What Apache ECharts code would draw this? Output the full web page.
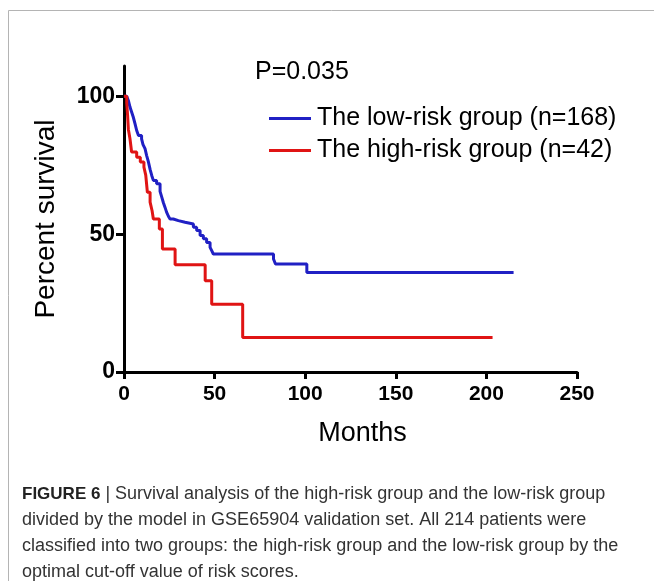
<!DOCTYPE html>
<html>
<head>
<meta charset="utf-8">
<script src="https://cdn.jsdelivr.net/npm/echarts@6/dist/echarts.min.js"></script>
<style>
html,body{margin:0;padding:0;background:#fff;}
#chart{width:654px;height:581px;}
</style>
</head>
<body>
<div id="chart"></div>
<script>
// ---- data ----
const lowMonths   = [0,1.5,2.4,3.3,4.2,5.1,6.1,7,8,9.7,10.5,11.6,12.5,13.4,14.4,15.3,16.2,18,19.9,20.8,21.7,22.6,23.5,24.5,25.4,27.2,30,33.7,38.3,40.1,42,43.8,45.6,47.5,48.4,49.3,82.5,83.6,100.9,215];
const lowSurvival = [100,99.4,98.5,96.1,94.3,92.5,90,87.6,85.8,84.6,82.5,81,78.5,76.4,73.5,71.3,69.5,68.3,65.5,63.5,61.5,59.8,58,56.5,55.5,54.9,54.3,53.7,52.5,51.3,49.5,48.3,47,45.2,44,42.8,41,39.2,36.1,36.1];
const highMonths   = [0,1.5,2,2.4,3.3,4.2,7,9,11,12,12.9,14.4,15.5,16.2,19.5,21.2,28.2,44.8,48.4,65.5,203.4];
const highSurvival = [100,97.6,92.9,88.1,84.6,79.8,77.9,76.2,74.3,71.4,65.2,61.6,58.5,55.5,51.9,44.6,38.9,33.1,24.6,12.5,12.5];
const seriesNames = ['The low-risk group (n=168)', 'The high-risk group (n=42)'];
const xTicks = [0,50,100,150,200,250];
const yTicks = [0,50,100];
const pText = 'P=0.035';
const captionLines = [
  ['FIGURE 6', ' | Survival analysis of the high-risk group and the low-risk group'],
  ['', 'divided by the model in GSE65904 validation set. All 214 patients were'],
  ['', 'classified into two groups: the high-risk group and the low-risk group by the'],
  ['', 'optimal cut-off value of risk scores.']
];

const chart = echarts.init(document.getElementById('chart'), null, {renderer:'canvas'});
const capFont = '"Liberation Sans",Arial,sans-serif';
const captionGraphics = captionLines.map((l, i) => ({
  type: 'text', left: 22, top: 485 + i * 26,
  style: {
    text: (l[0] ? '{b|' + l[0] + '}' : '') + '{n|' + l[1] + '}',
    rich: {
      b: {fontFamily: capFont, fontWeight: 'bold', fontSize: 17, fill: '#222'},
      n: {fontFamily: capFont, fontSize: 18, fill: '#333'}
    }
  }
}));

chart.setOption({
  animation: false,
  backgroundColor: '#fff',
  textStyle: {fontFamily: '"Liberation Sans",Arial,sans-serif'},
  grid: {left: 124, right: 77, top: 66, bottom: 209, containLabel: false},
  title: {
    text: pText, left: 250, top: 55,
    textStyle: {fontSize: 25, fontWeight: 'normal', color: '#000', fontFamily: '"Liberation Sans",Arial,sans-serif'}
  },
  legend: {
    orient: 'vertical', left: 264, top: 101, itemGap: 7,
    itemWidth: 42, itemHeight: 3, icon: 'rect',
    textStyle: {fontSize: 25, lineHeight: 25, color: '#000', padding: [0,0,0,1]},
    data: seriesNames
  },
  xAxis: {
    type: 'value', min: 0, max: 250, interval: 50,
    name: 'Months', nameLocation: 'middle', nameGap: 48,
    nameTextStyle: {fontSize: 27, color: '#000', padding: [0,0,0,24]},
    axisLine: {show: true, onZero: false, lineStyle: {color: '#000', width: 3}},
    axisTick: {show: true, length: 7, lineStyle: {color: '#000', width: 3}, customValues: xTicks},
    axisLabel: {fontSize: 21, fontWeight: 'bold', color: '#000', margin: 12, customValues: xTicks},
    splitLine: {show: false}
  },
  yAxis: {
    type: 'value', min: 0, max: 111,
    name: 'Percent survival', nameLocation: 'middle', nameGap: 64, nameRotate: 90,
    nameTextStyle: {fontSize: 28, color: '#000'},
    axisLine: {show: true, onZero: false, lineStyle: {color: '#000', width: 3}},
    axisTick: {show: true, length: 8, lineStyle: {color: '#000', width: 3}, customValues: yTicks},
    axisLabel: {fontSize: 23, fontWeight: 'bold', color: '#000', margin: 9, customValues: yTicks},
    splitLine: {show: false}
  },
  series: [
    {
      name: seriesNames[0], type: 'line', step: 'end', showSymbol: false, symbol: 'none',
      lineStyle: {color: '#2020c4', width: 3}, itemStyle: {color: '#2020c4'},
      data: lowMonths.map((m, i) => [m, lowSurvival[i]]), z: 3
    },
    {
      name: seriesNames[1], type: 'line', step: 'end', showSymbol: false, symbol: 'none',
      lineStyle: {color: '#e01414', width: 3}, itemStyle: {color: '#e01414'},
      data: highMonths.map((m, i) => [m, highSurvival[i]]), z: 4
    }
  ],
  graphic: [
    {type: 'line', shape: {x1: 8.5, y1: 10.5, x2: 654, y2: 10.5}, style: {stroke: '#b4b4b4', lineWidth: 1}, silent: true},
    {type: 'line', shape: {x1: 8.5, y1: 10.5, x2: 8.5, y2: 581}, style: {stroke: '#b4b4b4', lineWidth: 1}, silent: true}
  ].concat(captionGraphics)
});
</script>
</body>
</html>
